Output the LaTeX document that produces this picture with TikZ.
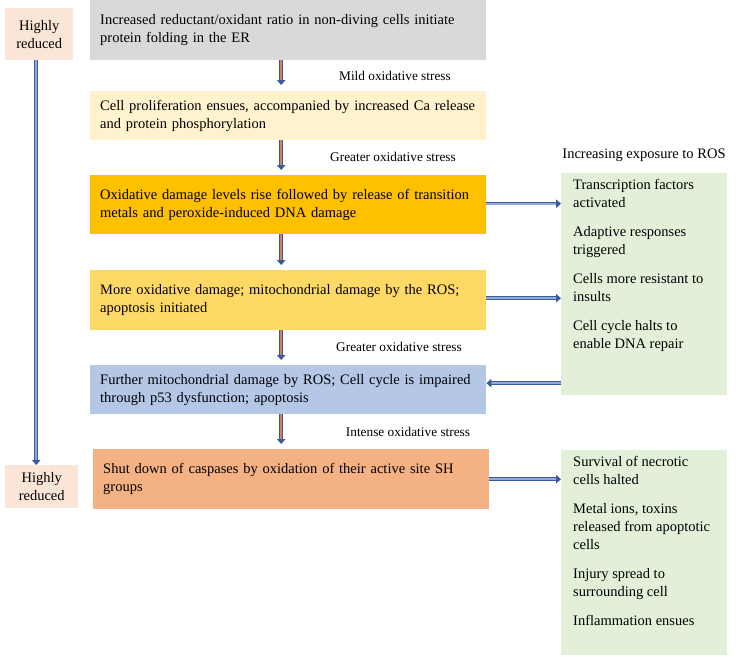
\documentclass[tikz,border=0pt]{standalone}
\usepackage{fontspec}
\setmainfont{Liberation Serif}
\usepackage{xcolor}
\usetikzlibrary{arrows.meta, positioning}

\definecolor{greybox}{HTML}{D9D9D9}
\definecolor{creambox}{HTML}{FFF2CC}
\definecolor{goldbox}{HTML}{FFC000}
\definecolor{yellowbox}{HTML}{FFD966}
\definecolor{bluebox}{HTML}{B4C7E7}
\definecolor{salmonbox}{HTML}{F4B183}
\definecolor{greenbox}{HTML}{E2F0D9}
\definecolor{peachbox}{HTML}{FBE5D6}
\definecolor{arrowblue}{HTML}{3A5A9A}
\definecolor{arroworange}{HTML}{D9804A}
\definecolor{arrowlight}{HTML}{8FAADC}

\newcommand{\mainsize}{\fontsize{14.5}{18}\selectfont}

\begin{document}
\begin{tikzpicture}[
    x=1pt, y=-1pt,
    stage/.style={fill=#1, anchor=north west, minimum width=396pt,
        text width=376pt, inner xsep=10pt, align=left, font=\mainsize},
    level/.style={fill=peachbox, anchor=north west, align=center,
        inner sep=0pt, font=\mainsize},
    effect/.style={fill=greenbox, anchor=north west, inner xsep=12pt,
        inner ysep=6pt, font=\mainsize},
    stress/.style={font=\fontsize{13.3}{16}\selectfont},
    flow/.style={draw=arrowblue, line width=0.9pt, double=#1,
        double distance=1.7pt, -{Triangle[length=5pt, width=8.5pt]}}
]
\useasboundingbox (0,0) rectangle (751,656);

% Left markers
\node[level, minimum width=68pt, minimum height=52pt] (hi1) at (5,8) {Highly\\reduced};
\node[level, minimum width=73pt, minimum height=43pt] (hi2) at (5,465) {Highly\\reduced};

% Stages
\node[stage=greybox, minimum height=60pt] (s1) at (90,0)
    {Increased reductant/oxidant ratio in non-diving cells initiate\\protein folding in the ER};
\node[stage=creambox, minimum height=49pt] (s2) at (90,91)
    {Cell proliferation ensues, accompanied by increased Ca release\\and protein phosphorylation};
\node[stage=goldbox, minimum height=59pt] (s3) at (90,175)
    {Oxidative damage levels rise followed by release of transition\\metals and peroxide-induced DNA damage};
\node[stage=yellowbox, minimum height=60pt] (s4) at (90,270)
    {More oxidative damage; mitochondrial damage by the ROS;\\apoptosis initiated};
\node[stage=bluebox, minimum height=49pt] (s5) at (90,365)
    {Further mitochondrial damage by ROS; Cell cycle is impaired\\through p53 dysfunction; apoptosis};
\node[stage=salmonbox, minimum height=60pt] (s6) at (93,449)
    {Shut down of caspases by oxidation of their active site SH\\groups};

% Outcomes
\node[effect] (ros) at (561,173) {\parbox[t][210pt][t]{142pt}{\mainsize\raggedright
    Transcription factors\\activated\\[11pt]
    Adaptive responses\\triggered\\[11pt]
    Cells more resistant to\\insults\\[11pt]
    Cell cycle halts to\\enable DNA repair}};
\node[effect] (harm) at (561,450) {\parbox[t][193pt][t]{142pt}{\mainsize\raggedright
    Survival of necrotic\\cells halted\\[11pt]
    Metal ions, toxins\\released from apoptotic\\cells\\[11pt]
    Injury spread to\\surrounding cell\\[11pt]
    Inflammation ensues}};

% Labels
\node[stress] (mild) at (395,76) {Mild oxidative stress};
\node[stress] (greater1) at (393,157) {Greater oxidative stress};
\node[font=\mainsize] (exposure) at (644,155) {Increasing exposure to ROS};
\node[stress] (greater2) at (399,347) {Greater oxidative stress};
\node[stress] (intense) at (408,432) {Intense oxidative stress};

% Arrows
\draw[flow=arrowlight] ([xshift=-3pt]hi1.south) -- ([xshift=-3pt]hi1.south |- hi2.north);

\draw[flow=arroworange] ([xshift=-7pt]s1.south) -- ([xshift=-7pt,yshift=6pt]s2.north);
\draw[flow=arroworange] ([xshift=-7pt]s2.south) -- ([xshift=-7pt,yshift=5pt]s3.north);
\draw[flow=arroworange] ([xshift=-7pt]s3.south) -- ([xshift=-7pt,yshift=5pt]s4.north);
\draw[flow=arroworange] ([xshift=-7pt]s4.south) -- ([xshift=-7pt,yshift=5pt]s5.north);
\draw[flow=arroworange] ([xshift=-7pt]s5.south) -- ([xshift=-10pt,yshift=5pt]s6.north);

\draw[flow=arrowlight] ([yshift=1pt]s3.east) -- ([yshift=1pt]s3.east -| ros.west);
\draw[flow=arrowlight] ([yshift=2pt]s4.east) -- ([yshift=2pt]s4.east -| ros.west);
\draw[flow=arrowlight] ([yshift=6.5pt]s5.east -| ros.west) -- ([yshift=6.5pt]s5.east);
\draw[flow=arrowlight] (s6.east) -- (s6.east -| harm.west);

\end{tikzpicture}
\end{document}
